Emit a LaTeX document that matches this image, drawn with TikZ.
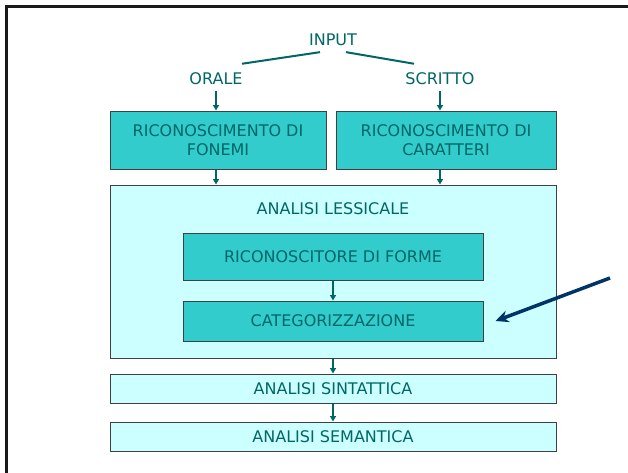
\documentclass[tikz,border=0pt]{standalone}
\usepackage{fontspec}
\setmainfont{DejaVu Sans}
\usetikzlibrary{arrows.meta}
\definecolor{tealbox}{HTML}{33CCCC}
\definecolor{cyanbox}{HTML}{CCFFFF}
\definecolor{tealtext}{HTML}{006666}
\definecolor{navyarrow}{HTML}{003366}

\begin{document}
\begin{tikzpicture}[x=1pt, y=-1pt, font=\fontsize{16}{18.5}\selectfont, text=tealtext,
  lbl/.style = {inner sep=2pt},
  box/.style = {draw=black!75, line width=1pt, fill=tealbox, align=center, inner sep=0pt},
  band/.style = {box, fill=cyanbox},
  link/.style = {draw=tealtext, line width=2pt},
  flow/.style = {draw=tealtext, line width=1.4pt, -{Triangle[length=5.5pt,width=6pt]}},
  callout/.style = {draw=navyarrow, line width=3.5pt, -{Stealth[length=13pt,width=12pt]}}]
\useasboundingbox (0,0) rectangle (628,472);
\draw[line width=3pt, black!90] (6,490) -- (6,6) -- (640,6);

% input and its two branches
\node[lbl] (input) at (333,40) {INPUT};
\node[lbl] (orale) at (216,79) {ORALE};
\node[lbl] (scritto) at (440,79) {SCRITTO};

\node[box, minimum width=216, minimum height=58] (fonemi) at (218,140) {RICONOSCIMENTO DI\\FONEMI};
\node[box, minimum width=220, minimum height=58] (caratteri) at (446,140) {RICONOSCIMENTO DI\\CARATTERI};

% lexical analysis block
\node[band, minimum width=446, minimum height=173] (lessicale) at (333,271.5) {};
\node[lbl] (lessicale_lbl) at (333,209) {ANALISI LESSICALE};
\node[box, minimum width=300, minimum height=47] (forme) at (333,256.5) {RICONOSCITORE DI FORME};
\node[box, minimum width=300, minimum height=40] (categ) at (333,321) {CATEGORIZZAZIONE};

\node[band, minimum width=446, minimum height=29] (sintattica) at (333,388.5) {ANALISI SINTATTICA};
\node[band, minimum width=446, minimum height=29] (semantica) at (333,436.5) {ANALISI SEMANTICA};

\coordinate (pointer) at (610,278);

\draw[link] ([xshift=-13pt,yshift=-4pt]input.south) -- ([xshift=26pt,yshift=7pt]orale.north);
\draw[link] ([xshift=13pt,yshift=-4pt]input.south) -- ([xshift=-26pt,yshift=7pt]scritto.north);

\begin{scope}[flow]
\draw[shorten <=4pt] (orale) -- (orale |- fonemi.north);
\draw[shorten <=4pt] (scritto) -- (scritto |- caratteri.north);
\draw (fonemi.south -| orale) -- (orale |- lessicale.north);
\draw (caratteri.south -| scritto) -- (scritto |- lessicale.north);
\draw (forme) -- (categ);
\draw (lessicale) -- (sintattica);
\draw (sintattica) -- (semantica);
\end{scope}

\draw[callout] (pointer) -- ([xshift=12pt]categ.east);
\end{tikzpicture}
\end{document}
